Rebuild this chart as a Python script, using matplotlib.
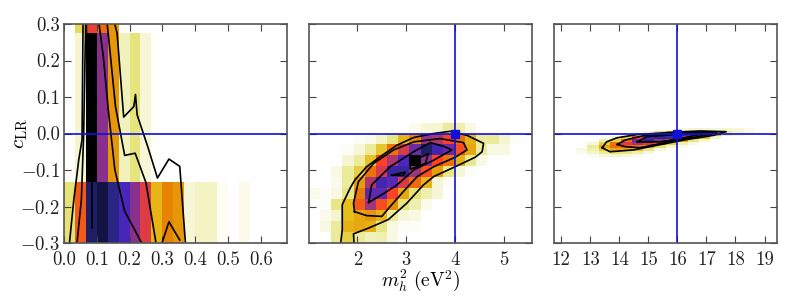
import matplotlib
matplotlib.use("Agg")
import matplotlib.pyplot as plt
import numpy as np

plt.rcParams['font.family'] = ['cmr10', 'DejaVu Serif']
plt.rcParams['mathtext.fontset'] = 'cm'
plt.rcParams['axes.formatter.use_mathtext'] = True
plt.rcParams['font.size'] = 13.5

# Panneau 1 : densite (lignes de bas en haut)
x1_edges = np.arange(22) * 0.0333
y1_edges = [-0.3, -0.133, 0.275, 0.3]
H1 = [
    [.14, .45, .90, .93, .86, .76, .65, .54, .27, .37, .33, .04, .06, .06, .015, 0, .02, 0, 0, 0, 0],
    [.005, .05, 1.0, .65, .33, .07, .13, .04, .005, 0, 0, 0, 0, 0, 0, 0, 0, 0, 0, 0, 0],
    [0, .17, .52, .42, .33, 0, 0, 0, 0, 0, 0, 0, 0, 0, 0, 0, 0, 0, 0, 0, 0],
]

# Panneau 2
x2_edges = np.linspace(1.01, 5.57, 21)
y2_edges = np.arange(12) * 0.03 - 0.3
H2 = [
    [0, 0, .10, .20, .10, .07, .08, .03, 0, 0, 0, 0, 0, 0, 0, 0, 0, 0, 0, 0],
    [0, .03, .10, .28, .30, .28, .12, .03, .01, .01, 0, 0, 0, 0, 0, 0, 0, 0, 0, 0],
    [0, .02, .05, .25, .30, .33, .27, .10, .04, .03, 0, 0, 0, 0, 0, 0, 0, 0, 0, 0],
    [.005, .01, .12, .25, .45, .62, .48, .35, .13, .08, .02, 0, 0, 0, 0, 0, 0, 0, 0, 0],
    [.02, .01, .03, .12, .38, .72, .72, .50, .30, .14, .08, .04, 0, 0, 0, 0, 0, 0, 0, 0],
    [0, 0, .02, .10, .32, .60, .78, .73, .55, .42, .27, .04, .01, 0, 0, 0, 0, 0, 0, 0],
    [0, 0, .03, .10, .20, .40, .55, .80, .82, .62, .47, .32, .12, .04, .01, 0, 0, 0, 0, 0],
    [0, 0, 0, .05, .10, .24, .50, .60, .75, 1.0, .65, .50, .40, .28, .11, .03, 0, 0, 0, 0],
    [0, 0, 0, .01, .04, .10, .23, .40, .55, .70, .90, .78, .70, .48, .30, .10, .03, .03, 0, 0],
    [0, 0, 0, 0, .01, .02, .06, .12, .27, .36, .63, .60, .50, .40, .28, .10, .10, .05, .01, 0],
    [0, 0, 0, 0, 0, 0, 0, 0, 0, .02, .04, .05, .10, .08, .03, 0, 0, 0, 0, 0],
]

# Panneau 3
x3_edges = np.linspace(11.75, 19.43, 21)
y3_edges = np.arange(11) * 0.008 - 0.064
H3 = [
    [0, 0, 0, .02, .04, .05, .04, .02, 0, 0, 0, 0, 0, 0, 0, 0, 0, 0, 0, 0],
    [0, 0, .02, .05, .10, .14, .12, .08, .03, 0, 0, 0, 0, 0, 0, 0, 0, 0, 0, 0],
    [0, 0, .03, .08, .22, .30, .30, .25, .12, .04, .01, 0, 0, 0, 0, 0, 0, 0, 0, 0],
    [0, 0, 0, .10, .30, .42, .45, .40, .30, .14, .05, .02, 0, 0, 0, 0, 0, 0, 0, 0],
    [0, 0, 0, .04, .20, .40, .55, .62, .55, .38, .20, .08, .03, 0, 0, 0, 0, 0, 0, 0],
    [0, 0, 0, 0, .08, .20, .42, .70, .85, .65, .45, .30, .12, .04, 0, 0, 0, 0, 0, 0],
    [0, 0, 0, 0, 0, .06, .20, .50, .75, .85, .80, .60, .42, .25, .06, 0, 0, 0, 0, 0],
    [0, 0, 0, 0, 0, 0, .05, .15, .35, .70, .85, .80, .70, .55, .30, .08, .03, 0, 0, 0],
    [0, 0, 0, 0, 0, 0, 0, 0, .05, .15, .35, .55, .60, .60, .35, .10, .05, .02, 0, 0],
    [0, 0, 0, 0, 0, 0, 0, 0, 0, 0, 0, .03, .05, .05, .04, .05, .04, .02, 0, 0],
]

# Contours (x, y)
contours1 = [
    ([.155, .162, .182, .213, .218, .223, .255, .285, .32, .353, .37],
     [.299, .274, .045, .074, .107, .051, -.035, -.122, -.07, -.09, -.297]),
    ([.132, .157, .185, .217, .25, .28], [.299, .074, -.06, -.054, -.135, -.297]),
    ([.107, .12, .135, .155, .185, .215, .235], [.299, .21, .065, -.099, -.213, -.263, -.297]),
    ([.30, .32, .353], [-.297, -.242, -.292]),
    ([.017, .03, .045, .055, .058], [-.297, -.181, -.072, -.017, .299]),
    ([.04, .053, .06, .066], [-.297, -.181, 0, .299]),
    ([.086, .085, .072, .068], [-.258, -.131, .092, .299]),
]
contours2 = [
    ([1.66, 1.69, 1.69, 1.85, 1.95, 2.19, 2.46, 2.81, 3.15, 3.56, 3.90, 4.24, 4.58, 4.55, 4.41, 4.0, 3.56, 3.35, 3.01, 2.63, 2.23, 1.92, 1.93],
     [-.298, -.264, -.195, -.15, -.127, -.091, -.064, -.032, -.011, 0, .006, -.005, -.027, -.05, -.065, -.091, -.118, -.141, -.191, -.236, -.259, -.275, -.298]),
    ([1.94, 1.92, 2.02, 2.33, 2.74, 3.15, 3.69, 4.17, 4.24, 4.0, 3.56, 3.22, 2.94, 2.67, 2.5, 2.19, 1.94],
     [-.214, -.191, -.132, -.082, -.045, -.023, -.014, -.025, -.045, -.065, -.091, -.118, -.159, -.2, -.227, -.225, -.214]),
    ([2.23, 2.29, 2.67, 3.15, 3.49, 3.76, 3.93, 3.56, 3.15, 2.81, 2.53, 2.23],
     [-.189, -.141, -.091, -.05, -.025, -.035, -.045, -.073, -.1, -.141, -.165, -.189]),
    ([3.08, 3.45, 3.39, 3.08, 3.08], [-.077, -.056, -.082, -.098, -.077]),
    ([2.70, 2.98, 2.94, 2.70], [-.114, -.106, -.115, -.114]),
]
contours3 = [
    ([13.41, 13.56, 13.91, 14.6, 15.98, 16.78, 17.68, 17.24, 16.21, 15.06, 14.48, 13.68, 13.41],
     [-.039, -.023, -.012, -.003, .004, .007, .005, -.005, -.018, -.036, -.045, -.05, -.039]),
    ([13.93, 14.2, 14.83, 15.98, 17.13, 17.36, 16.67, 15.98, 14.71, 14.2, 13.93],
     [-.03, -.018, -.006, 0, .004, .002, -.009, -.018, -.039, -.036, -.03]),
    ([14.62, 14.94, 15.98, 17.01, 16.21, 15.4, 14.62],
     [-.023, -.009, -.002, .002, -.012, -.023, -.023]),
]

xlims = [(0.0, 0.68), (1.01, 5.57), (11.75, 19.43)]
xticks = [[0.0, 0.1, 0.2, 0.3, 0.4, 0.5, 0.6], [2, 3, 4, 5], [12, 13, 14, 15, 16, 17, 18, 19]]
xticklabels = [['0.0', '0.1', '0.2', '0.3', '0.4', '0.5', '0.6'], ['2', '3', '4', '5'],
               ['12', '13', '14', '15', '16', '17', '18', '19']]
yticks = [-0.3, -0.2, -0.1, 0.0, 0.1, 0.2, 0.3]
yticklabels = ['$-0.3$', '$-0.2$', '$-0.1$', '0.0', '0.1', '0.2', '0.3']
true_x = [None, 4, 16]

panels = [(x1_edges, y1_edges, H1, contours1), (x2_edges, y2_edges, H2, contours2), (x3_edges, y3_edges, H3, contours3)]
lefts = [64, 309, 554]

fig = plt.figure(figsize=(8.01, 3.04), dpi=100)
for i, (xe, ye, H, cont) in enumerate(panels):
    ax = fig.add_axes([lefts[i] / 801, 61 / 304, 223 / 801, 219 / 304])
    ax.pcolormesh(xe, ye, np.array(H), cmap='CMRmap_r', vmin=0, vmax=1, linewidth=0, rasterized=True)
    for cx, cy in cont:
        ax.plot(cx, cy, color='k', lw=1.2)
    ax.axhline(0, color='#1010d8', lw=1.2)
    if true_x[i] is not None:
        ax.axvline(true_x[i], color='#1010d8', lw=1.2)
        ax.plot(true_x[i], 0, 's', color='#1010d8', ms=5.5)
    ax.set_xlim(xlims[i])
    ax.set_ylim(-0.3, 0.3)
    ax.set_xticks(xticks[i])
    ax.set_xticklabels(xticklabels[i])
    ax.set_yticks(yticks)
    ax.set_yticklabels(yticklabels if i == 0 else [])
    ax.tick_params(direction='in', top=True, right=True, length=5, width=0.8, color='#444444',
                   labelcolor='#222222', pad=3)
    ax.tick_params(axis='x', pad=5.5)
    for s in ax.spines.values():
        s.set_color('#555555')
        s.set_linewidth(1.2)
    if i == 0:
        ax.set_ylabel(r'$c_{\mathrm{LR}}$', fontsize=15, labelpad=-7)
    if i == 1:
        ax.set_xlabel(r'$m_h^2\ (\mathrm{eV}^2)$', fontsize=14, labelpad=-1)

fig.savefig('out.png', dpi=100)
